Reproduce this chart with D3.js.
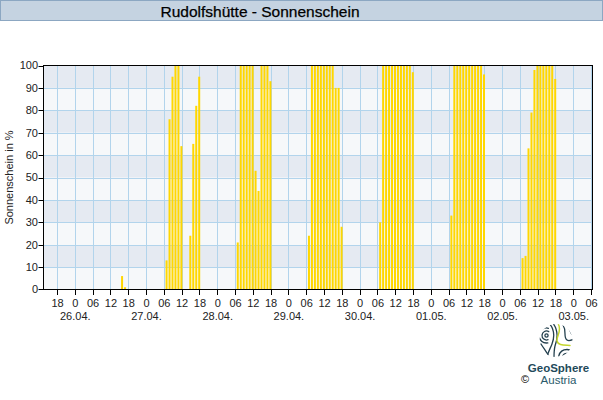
<!DOCTYPE html>
<html><head><meta charset="utf-8">
<script src="https://cdn.jsdelivr.net/npm/d3@7"></script>
<style>body{margin:0;background:#fff}svg{display:block}text{font-family:"Liberation Sans",Arial,sans-serif}</style>
</head><body><svg id="c" width="603" height="400"></svg>
<script>
// ---- data ----
const title = "Rudolfshütte - Sonnenschein";
const yLabel = "Sonnenschein in %";
const dayLabels = ["26.04.", "27.04.", "28.04.", "29.04.", "30.04.", "01.05.", "02.05.", "03.05."];
const hourTickLabels = ["18", "0", "06", "12"]; // repeating by 6h, starting at 25.04 18:00
const hoursOfDay = [7, 8, 9, 10, 11, 12, 13, 14, 15, 16, 17, 18]; // hour ending
const sun2604 = [0, 0, 0, 0, 0, 0, 0, 0, 0, 6, 1, 0];
const sun2704 = [13, 76, 95, 100, 100, 64, 0, 0, 24, 65, 82, 95];
const sun2804 = [21, 100, 100, 100, 100, 100, 53, 44, 100, 100, 100, 93];
const sun2904 = [24, 100, 100, 100, 100, 100, 100, 100, 100, 90, 90, 28];
const sun3004 = [30, 100, 100, 100, 100, 100, 100, 100, 100, 100, 100, 97];
const sun0105 = [33, 100, 100, 100, 100, 100, 100, 100, 100, 100, 100, 96];
const sun0205 = [14, 15, 63, 79, 98, 100, 100, 100, 100, 100, 100, 94];
const yTicks = [0, 10, 20, 30, 40, 50, 60, 70, 80, 90, 100];

const dailySeries = [sun2604, sun2704, sun2804, sun2904, sun3004, sun0105, sun0205];
const data = [];
dailySeries.forEach((arr, d) => arr.forEach((v, i) => data.push({h: d * 24 + hoursOfDay[i], v})));

const svg = d3.select("#c");
const L = 43.5, R = 592.5, T = 65.5, B = 289.5;
const pxh = (591.5 - 57.5) / 180;
const x = d3.scaleLinear().domain([-6 - (57.5 - L) / pxh, 174 + (R - 591.5) / pxh]).range([L, R]);
const y = d3.scaleLinear().domain([0, 100]).range([B, T]);
const cx = v => Math.floor(x(v)) + 0.5;

// title bar
svg.append("rect").attr("x", 0.5).attr("y", 0.5).attr("width", 602).attr("height", 20)
  .attr("fill", "#c5d3e1").attr("stroke", "#8ca7c2");
svg.append("text").attr("x", 260).attr("y", 16.5).attr("text-anchor", "middle")
  .attr("font-size", 15.5).attr("fill", "#000").attr("stroke", "#000").attr("stroke-width", 0.25).text(title);

// bands
const g = svg.append("g");
for (let k = 0; k < 10; k++) {
  g.append("rect").attr("x", L).attr("width", R - L)
    .attr("y", y(k * 10 + 10)).attr("height", y(k * 10) - y(k * 10 + 10))
    .attr("fill", k % 2 === 1 ? "#e5eaf2" : "#f6f8fa");
}
// grid
const hTicks = d3.range(-6, 175, 6);
g.selectAll(".vg").data(hTicks).join("line")
  .attr("x1", d => cx(d)).attr("x2", d => cx(d)).attr("y1", T).attr("y2", B)
  .attr("stroke", "#b2d4ec").attr("stroke-width", 1);
g.selectAll(".hg").data(yTicks.slice(1, -1)).join("line")
  .attr("x1", L).attr("x2", R).attr("y1", d => Math.round(y(d)) + 0.5).attr("y2", d => Math.round(y(d)) + 0.5)
  .attr("stroke", "#b2d4ec").attr("stroke-width", 1);

// bars
g.selectAll(".bar").data(data.filter(d => d.v > 0)).join("rect")
  .attr("x", d => x(d.h) - 1.7).attr("width", 2)
  .attr("y", d => y(d.v)).attr("height", d => B - y(d.v))
  .attr("fill", "#ffd700");

// frame
svg.append("rect").attr("x", L).attr("y", T).attr("width", R - L).attr("height", B - T)
  .attr("fill", "none").attr("stroke", "#000");

// y axis ticks
const ya = svg.append("g");
ya.selectAll("line").data(yTicks).join("line")
  .attr("x1", L - 5).attr("x2", L).attr("y1", d => Math.round(y(d)) + 0.5 - (d===0?1:0)).attr("y2", d => Math.round(y(d)) + 0.5 - (d===0?1:0))
  .attr("stroke", "#000");
ya.selectAll("text").data(yTicks).join("text")
  .attr("x", 38).attr("y", d => y(d)).attr("dy", "0.36em").attr("text-anchor", "end")
  .attr("font-size", 11).attr("fill", "#222").text(d => d);
svg.append("text").attr("transform", "translate(13,177.5) rotate(-90)").attr("text-anchor", "middle")
  .attr("font-size", 11).attr("fill", "#222").text(yLabel);

// x axis ticks
const xa = svg.append("g");
xa.selectAll("line").data(hTicks).join("line")
  .attr("x1", d => cx(d)).attr("x2", d => cx(d)).attr("y1", B).attr("y2", B + 5.5)
  .attr("stroke", "#000");
xa.selectAll("text.h").data(hTicks).join("text").attr("class", "h")
  .attr("x", d => x(d)).attr("y", 307).attr("text-anchor", "middle")
  .attr("font-size", 11).attr("fill", "#222").text((d, i) => hourTickLabels[i % 4]);
xa.selectAll("text.d").data(dayLabels).join("text").attr("class", "d")
  .attr("x", (d, i) => x(i * 24)).attr("y", 319.5).attr("text-anchor", "middle")
  .attr("font-size", 11).attr("fill", "#222").text(d => d);

// logo
const dark = "#24404e", green = "#c3d52e";
const defs = svg.append("defs");
defs.append("clipPath").attr("id", "lc").append("circle").attr("cx", 556).attr("cy", 340.5).attr("r", 16.5);
const lg = svg.append("g").attr("fill", "none").attr("stroke-linecap", "round").attr("clip-path", "url(#lc)")
  .attr("stroke-width", 1.3);
function arcP(cx0, cy0, r, a0, a1) {
  const p = d3.path();
  p.arc(cx0, cy0, r, a0 * Math.PI / 180, a1 * Math.PI / 180);
  return p.toString();
}
lg.append("circle").attr("cx", 546.5).attr("cy", 335.5).attr("r", 1.6).attr("stroke", dark);
lg.append("path").attr("d", arcP(546.5, 335.5, 4.5, 70, 300)).attr("stroke", dark);
lg.append("path").attr("d", arcP(546.5, 335.5, 7.5, 80, 285)).attr("stroke", dark);
lg.append("path").attr("d", "M548,322 C554,328 555,336 552,344 C550,349 548,352 547,357").attr("stroke", dark);
lg.append("path").attr("d", "M552,322 C558,329 558,338 555,346 C554,350 554,354 554,358").attr("stroke", dark);
lg.append("path").attr("d", "M558.5,324.5 C562,331 556,337 557,341 C558,345.5 564,345 570,345.5").attr("stroke", green).attr("stroke-width", 1.5);
lg.append("path").attr("d", "M563,325 C567,331 563,337 567,340 C569,341.5 572,340 574,339").attr("stroke", dark);
lg.append("path").attr("d", "M568,327 C571,330 570,334 573,335").attr("stroke", dark);
lg.append("path").attr("d", arcP(567, 358, 4.5, 190, 350)).attr("stroke", dark);
lg.append("path").attr("d", arcP(567, 358, 8.5, 195, 345)).attr("stroke", dark);
lg.append("path").attr("d", "M541,344 C544,349 547,352 549,357").attr("stroke", dark);
svg.append("text").attr("x", 558.5).attr("y", 371.5).attr("text-anchor", "middle")
  .attr("font-size", 11.5).attr("font-weight", "bold").attr("fill", "#1f4a5a").text("GeoSphere");
svg.append("text").attr("x", 558.5).attr("y", 383.5).attr("text-anchor", "middle")
  .attr("font-size", 11.5).attr("fill", "#2a5a6a").text("Austria");
svg.append("text").attr("x", 525).attr("y", 383).attr("text-anchor", "middle")
  .attr("font-size", 11).attr("fill", "#000").text("©");
</script></body></html>
